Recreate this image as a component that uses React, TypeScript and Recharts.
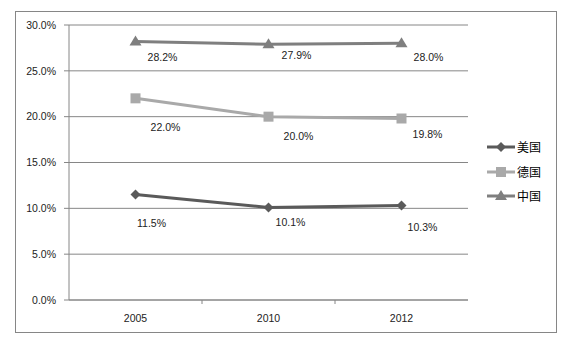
import React from "react";
import { LineChart, Line, XAxis, YAxis, CartesianGrid, LabelList } from "recharts";

const YEARS = ["2005", "2010", "2012"];
const US = [11.5, 10.1, 10.3];
const DE = [22.0, 20.0, 19.8];
const CN = [28.2, 27.9, 28.0];
const Y_TICKS = [0, 5, 10, 15, 20, 25, 30];

const SERIES = [
  { key: "us", name: "美国", values: US, color: "#5a5a5a", shape: "diamond" },
  { key: "de", name: "德国", values: DE, color: "#a9a9a9", shape: "square" },
  { key: "cn", name: "中国", values: CN, color: "#7f7f7f", shape: "triangle" },
];

// label offsets (style only)
const LABEL_OFFSETS: Record<string, [number, number][]> = {
  us: [[16, 28], [22, 15], [21, 21]],
  de: [[30, 29], [30, 19], [26, 15]],
  cn: [[27, 15], [28, 11], [27, 14]],
};

const W = 570;
const H = 347;
const MARGIN = { top: 25, right: 102, bottom: 27, left: 15 };
const Y_AXIS_W = 54;
const PLOT_W = W - MARGIN.left - MARGIN.right - Y_AXIS_W;
const FONT = "'Liberation Sans', Arial, sans-serif";
const AXIS_COLOR = "#868686";

const data = YEARS.map((y, i) => {
  const row: any = { year: y };
  SERIES.forEach((s) => (row[s.key] = s.values[i]));
  return row;
});

function Marker({ cx, cy, shape, color }: any) {
  if (cx == null || cy == null) return null;
  if (shape === "diamond") {
    const r = 5;
    return <polygon points={`${cx},${cy - r} ${cx + r},${cy} ${cx},${cy + r} ${cx - r},${cy}`} fill={color} />;
  }
  if (shape === "square") {
    return <rect x={cx - 5} y={cy - 5} width={10} height={10} fill={color} />;
  }
  return <polygon points={`${cx},${cy - 6} ${cx + 6},${cy + 4} ${cx - 6},${cy + 4}`} fill={color} />;
}

function makeLabel(key: string) {
  return (props: any) => {
    const { x, y, value, index } = props;
    const [dx, dy] = LABEL_OFFSETS[key][index];
    return (
      <text x={x + dx} y={y + dy} textAnchor="middle" dominantBaseline="central" fontSize={10.5} fontFamily={FONT} fill="#222">
        {Number(value).toFixed(1)}%
      </text>
    );
  };
}

function XTick(props: any) {
  const { x, y, payload, index } = props;
  const bw = PLOT_W / YEARS.length;
  return (
    <g>
      <text x={x} y={y + 18} textAnchor="middle" dominantBaseline="central" fontSize={10.5} fontFamily={FONT} fill="#222">
        {payload.value}
      </text>
      {index < YEARS.length - 1 && (
        <line x1={x + bw / 2} x2={x + bw / 2} y1={y} y2={y + 4} stroke={AXIS_COLOR} />
      )}
    </g>
  );
}

function LegendBox() {
  return (
    <div style={{ position: "absolute", left: 487, top: 135, fontFamily: "'Noto Sans CJK SC', sans-serif", fontSize: 12, color: "#000" }}>
      {SERIES.map((s) => (
        <div key={s.key} style={{ display: "flex", alignItems: "center", height: 24.5 }}>
          <svg width={30} height={12}>
            <line x1={0} x2={28} y1={6} y2={6} stroke={s.color} strokeWidth={3} />
            <Marker cx={14} cy={6} shape={s.shape} color={s.color} />
          </svg>
          <span style={{ lineHeight: "12px" }}>{s.name}</span>
        </div>
      ))}
    </div>
  );
}

export default function App() {
  return (
    <div style={{ position: "absolute", left: 0, top: 0, width: W, height: H, background: "#fff" }}>
      <div style={{ position: "absolute", left: 15, top: 11, width: 542, height: 322, border: `1px solid ${AXIS_COLOR}`, boxSizing: "border-box" }} />
      <LineChart width={W} height={H} data={data} margin={MARGIN}>
        <CartesianGrid vertical={false} stroke={AXIS_COLOR} />
        <XAxis
          dataKey="year"
          scale="band"
          padding={{ left: 0, right: 0 }}
          stroke={AXIS_COLOR}
          tickLine={false}
          tickSize={0}
          tickMargin={0}
          tick={<XTick />}
          height={20}
          interval={0}
        />
        <YAxis
          domain={[0, 30]}
          ticks={Y_TICKS}
          width={Y_AXIS_W}
          stroke={AXIS_COLOR}
          tickSize={5}
          tickMargin={8}
          tick={{ fontSize: 10.5, fontFamily: FONT, fill: "#222" }}
          tickFormatter={(v: number) => v.toFixed(1) + "%"}
        />
        {SERIES.map((s) => (
          <Line
            key={s.key}
            dataKey={s.key}
            name={s.name}
            stroke={s.color}
            strokeWidth={3}
            isAnimationActive={false}
            dot={(p: any) => <Marker key={`${s.key}-${p.index}`} cx={p.cx} cy={p.cy} shape={s.shape} color={s.color} />}
            activeDot={false}
          >
            <LabelList dataKey={s.key} content={makeLabel(s.key)} />
          </Line>
        ))}
      </LineChart>
      <LegendBox />
    </div>
  );
}
